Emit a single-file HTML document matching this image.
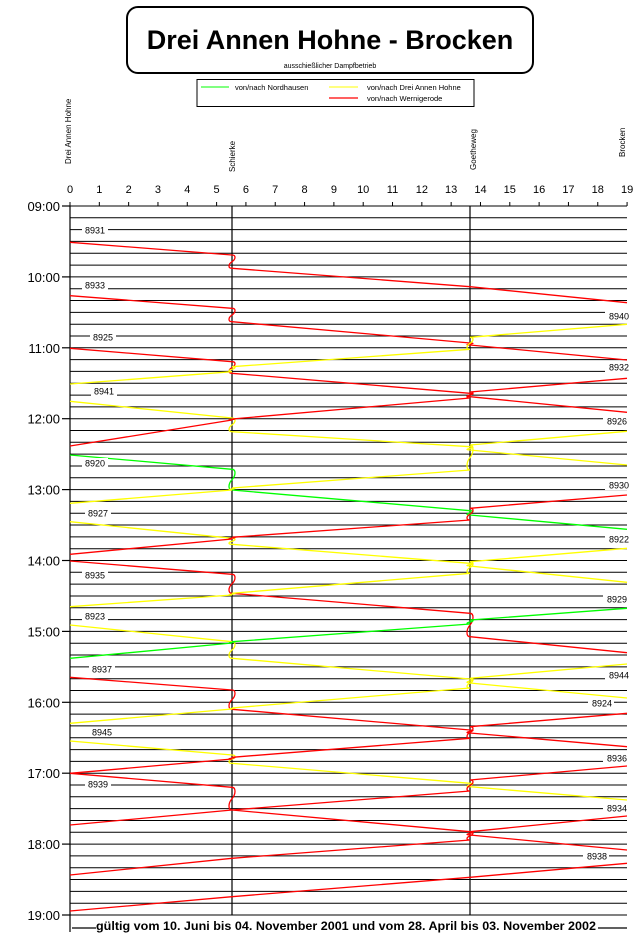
<!DOCTYPE html>
<html><head><meta charset="utf-8"><style>
html,body{margin:0;padding:0;background:#fff;width:641px;height:951px;overflow:hidden}
svg{display:block;font-family:"Liberation Sans",Arial,sans-serif}
</style></head><body>
<svg id="s" width="641" height="951" viewBox="0 0 641 951" xmlns="http://www.w3.org/2000/svg">
<rect x="127" y="7" width="406" height="66" rx="11" fill="#fff" stroke="#000" stroke-width="2"/>
<text x="330" y="49" text-anchor="middle" font-size="27" font-weight="bold">Drei Annen Hohne - Brocken</text>
<text x="330" y="68" text-anchor="middle" font-size="7">ausschießlicher Dampfbetrieb</text>
<rect x="197" y="79.5" width="277" height="27" fill="#fff" stroke="#000" stroke-width="1"/>
<line x1="201" y1="87" x2="229" y2="87" stroke="#00ff00" stroke-width="1"/>
<text x="235" y="90" font-size="7.5">von/nach Nordhausen</text>
<line x1="329" y1="87" x2="358" y2="87" stroke="#ffff00" stroke-width="1"/>
<text x="367" y="90" font-size="7.5">von/nach Drei Annen Hohne</text>
<line x1="329" y1="98" x2="358" y2="98" stroke="#ff0000" stroke-width="1.3"/>
<text x="367" y="101" font-size="7.5">von/nach Wernigerode</text>
<text transform="translate(71,164) rotate(-90)" font-size="8">Drei Annen Hohne</text>
<text transform="translate(235,172) rotate(-90)" font-size="8">Schierke</text>
<text transform="translate(476,170) rotate(-90)" font-size="8">Goetheweg</text>
<text transform="translate(625,157) rotate(-90)" font-size="8">Brocken</text>
<g id="g"></g>
</svg>
<script>
var g=document.getElementById('g'),h='';
function X(k){return 70+k*29.32;}
for(var i=0;i<=19;i++){h+='<text x="'+X(i)+'" y="193" text-anchor="middle" font-size="11">'+i+'</text>';
 h+='<line x1="'+X(i)+'" y1="202" x2="'+X(i)+'" y2="206" stroke="#000" stroke-width="1"/>';}
for(var i=0;i<=60;i++){var y=(206+i*709/60).toFixed(1);
 h+='<line x1="70" y1="'+y+'" x2="627" y2="'+y+'" stroke="#000" stroke-width="1"/>';
 if(i%6==0){h+='<line x1="62" y1="'+y+'" x2="70" y2="'+y+'" stroke="#000" stroke-width="1.2"/>';
  var hh=9+i/6;h+='<text x="60" y="'+(+y+5)+'" text-anchor="end" font-size="13">'+(hh<10?'0':'')+hh+':00</text>';}}
h+='<line x1="70" y1="206" x2="70" y2="932" stroke="#000" stroke-width="1.2"/>';
h+='<line x1="232" y1="206" x2="232" y2="915" stroke="#000" stroke-width="1.2"/>';
h+='<line x1="470" y1="206" x2="470" y2="915" stroke="#000" stroke-width="1.2"/>';
h+='<line x1="72" y1="928" x2="96" y2="928" stroke="#000" stroke-width="1.2"/>';
h+='<line x1="598" y1="928" x2="627" y2="928" stroke="#000" stroke-width="1.2"/>';
h+='<text x="346" y="930" text-anchor="middle" font-size="12" font-weight="bold" textLength="500" lengthAdjust="spacingAndGlyphs">gültig vom 10. Juni bis 04. November 2001 und vom 28. April bis 03. November 2002</text>';
var C={R:'#ff0000',Y:'#ffff00',G:'#00ff00'};
function stop(x,a,b,d){if(Math.abs(b-a)<0.5)return ' L'+x+' '+a;
 return ' L'+x+' '+a+' C'+(x+4*d)+' '+a+' '+(x+4*d)+' '+(a+(b-a)*0.3)+' '+x+' '+(a+(b-a)*0.5)+' S'+(x-4*d)+' '+b+' '+x+' '+b;}
var down=[['R',242.3,255,268.3,286.7,286.7,302.7],['R',295.7,308.3,321.7,343,345,360],['R',348.3,361.7,373.3,393.3,396.7,412.3],
['Y',401.3,418,431.7,446.7,450,465],['G',455,469.3,490,510.7,515,529.3],['Y',521.7,538.3,544.3,563.3,566,582.3],
['R',561,574.3,593.3,613.3,636.7,652.7],['Y',625,641.7,658.3,679,683,698],['R',677.3,690,709.3,730,733,746.7],
['Y',741,755,763.3,783.3,786.7,800],['R',773.3,787.3,810,831.7,835,850]];
var up=[['Y',324.3,337.3,349.3,366.7,371.7,384],['R',378.3,392,398,419,420,446],['Y',431.3,445,470,488,490,503.3],
['R',495,508.3,520,537.3,539,554.3],['Y',548.3,561.7,573.3,593.3,595,606.7],['G',608.3,620,624,641.7,643,658.3],
['Y',664,678.3,688,708,709,723.3],['R',713.3,726.7,738.3,757.3,759,773.3],['R',766,780,791,810,810,825],
['R',816,831.7,840,858.3,858.3,875],['R',863.3,877.3,877.3,896.7,896.7,911]];
down.forEach(function(t){var d='M70 '+t[1]+stop(232,t[2],t[3],1)+stop(470,t[4],t[5],1)+' L627 '+t[6];
 h+='<path d="'+d+'" fill="none" stroke="'+C[t[0]]+'" stroke-width="1.3"/>';});
up.forEach(function(t){var d='M627 '+t[1]+stop(470,t[2],t[3],1)+stop(232,t[4],t[5],1)+' L70 '+t[6];
 h+='<path d="'+d+'" fill="none" stroke="'+C[t[0]]+'" stroke-width="1.3"/>';});
function lab(x,y,s,anchor){var w=26,x0=anchor=='end'?x-w+2:x-w/2;
 h+='<rect x="'+x0+'" y="'+(y-5)+'" width="'+w+'" height="10" fill="#fff"/>';
 h+='<text x="'+x+'" y="'+(y+3.5)+'" text-anchor="'+anchor+'" font-size="9">'+s+'</text>';}
[[95,230,'8931'],[95,285,'8933'],[103,337,'8925'],[104,391,'8941'],[95,463,'8920'],[98,513,'8927'],[95,575,'8935'],[95,616,'8923'],[102,669,'8937'],[102,732,'8945'],[98,784,'8939']].forEach(function(a){lab(a[0],a[1],a[2],'middle');});
[[629,316,'8940'],[629,367,'8932'],[627,421,'8926'],[629,485,'8930'],[629,539,'8922'],[627,599,'8929'],[629,675,'8944'],[612,703,'8924'],[627,758,'8936'],[627,808,'8934'],[607,856,'8938']].forEach(function(a){lab(a[0],a[1],a[2],'end');});
g.innerHTML=h;
</script>
</body></html>
